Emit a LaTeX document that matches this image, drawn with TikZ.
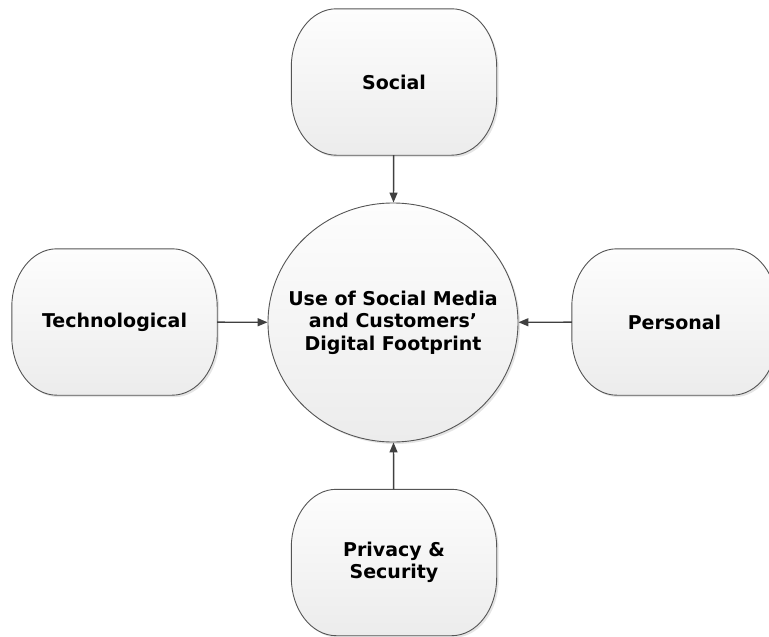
\documentclass[tikz,border=0pt]{standalone}
\usepackage{fontspec}
\setmainfont{DejaVu Sans}
\usetikzlibrary{arrows.meta,shapes.geometric,shadows}
\definecolor{edgec}{HTML}{404040}
\definecolor{linec}{HTML}{555555}
\definecolor{topc}{HTML}{FDFDFD}
\definecolor{botc}{HTML}{ECECEC}
\newcommand\blobdraw[1]{%
  \path[blobfill]
    ([xshift=45pt]#1.north west) -- ([xshift=-45pt]#1.north east)
    arc[start angle=90,end angle=0,x radius=45pt,y radius=58pt]
    -- ([yshift=58pt]#1.south east)
    arc[start angle=0,end angle=-90,x radius=45pt,y radius=58pt]
    -- ([xshift=45pt]#1.south west)
    arc[start angle=270,end angle=180,x radius=45pt,y radius=58pt]
    -- ([yshift=-58pt]#1.north west)
    arc[start angle=180,end angle=90,x radius=45pt,y radius=58pt]
    -- cycle;}
\tikzset{
  txt/.style={align=center,inner sep=0pt,font=\fontsize{19}{22.5}\selectfont\bfseries},
  blobfill/.style={draw=linec,line width=0.9pt,top color=topc,bottom color=botc,
    general shadow={fill=black!10,shadow xshift=2pt,shadow yshift=-2pt}},
  blob/.style={rectangle,minimum width=205pt,minimum height=146pt,inner sep=0pt},
  hub/.style={ellipse,minimum width=250pt,minimum height=239pt,inner sep=0pt,
    draw=linec,line width=0.9pt,top color=topc,bottom color=botc,
    general shadow={fill=black!10,shadow xshift=2pt,shadow yshift=-2pt}},
  arr/.style={draw=edgec,line width=1.4pt,-{Triangle[length=10pt,width=8pt]}}
}
\begin{document}
\begin{tikzpicture}[x=1pt,y=-1pt]
\useasboundingbox (0,0) rectangle (769,637);
\node[blob] (social) at (394,82) {};
\node[blob] (tech) at (114.5,322) {};
\node[blob] (personal) at (674.5,322) {};
\node[blob] (privacy) at (394,562.5) {};
\blobdraw{social}
\blobdraw{tech}
\blobdraw{personal}
\blobdraw{privacy}
\node[txt] (socialt) at (social) {Social};
\node[txt] (techt) at (tech) {Technological};
\node[txt] (personalt) at (personal) {Personal};
\node[txt] (privacyt) at (privacy) {Privacy \&\\Security};
\node[hub] (hub) at (393,322.5) {};
\node[txt] (hubt) at (hub) {Use of Social Media\\and Customers’\\Digital Footprint};
\draw[arr] (social) -- (hub);
\draw[arr] (tech) -- (hub);
\draw[arr] (personal) -- (hub);
\draw[arr] (privacy) -- (hub);
\end{tikzpicture}
\end{document}
